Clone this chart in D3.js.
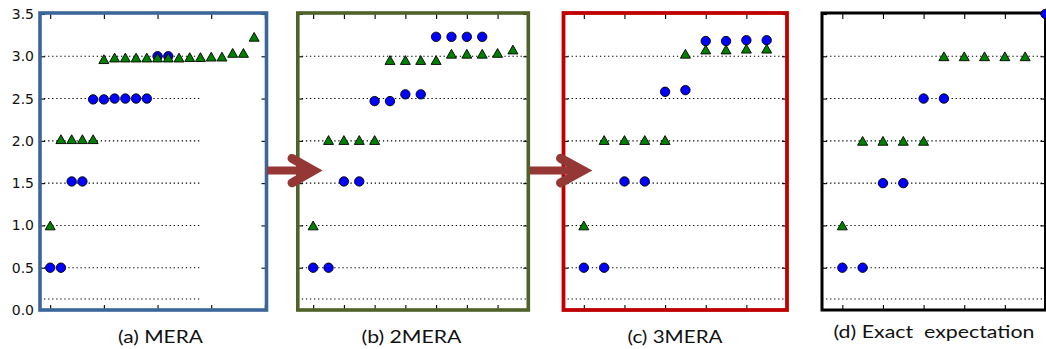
<!DOCTYPE html>
<html>
<head>
<meta charset="utf-8">
<script src="https://cdn.jsdelivr.net/npm/d3@7"></script>
<style>
  html, body { margin: 0; padding: 0; background: #fff; }
  svg { display: block; }
  .title { font-family: Lato, "Open Sans", sans-serif; font-size: 18px; fill: #111; white-space: pre; }
  .ylab text { font-family: "DejaVu Sans", sans-serif; font-size: 14px; fill: #111; }
</style>
</head>
<body>
<script>
// ---- data -------------------------------------------------------------
// Shared axis values
const yTickValues = [0.0, 0.5, 1.0, 1.5, 2.0, 2.5, 3.0, 3.5];
// Exact levels shown as dotted reference lines (drawn up to index 14)
const referenceLevels = [0.13, 0.5, 1.0, 1.5, 2.0, 2.5, 3.0];
const referenceLineEnd = 14;

// Scaling dimensions by level index; null = no point at that index
const meraCircles   = [0.5, 0.5, 1.52, 1.52, 2.49, 2.49, 2.5, 2.5, 2.5, 2.5, 3.0, 3.0];
const meraTriangles = [1.0, 2.02, 2.02, 2.02, 2.02, 2.966, 2.985, 2.985, 2.985, 2.985,
                       2.985, 2.985, 2.985, 2.99, 2.99, 2.996, 2.996, 3.04, 3.04, 3.23];

const mera2Circles   = [0.5, 0.5, 1.52, 1.52, 2.47, 2.47, 2.55, 2.55, 3.23, 3.23, 3.23, 3.23];
const mera2Triangles = [1.0, 2.01, 2.01, 2.01, 2.01, 2.956, 2.956, 2.956, 2.956,
                        3.03, 3.03, 3.03, 3.04, 3.08];

const mera3Circles   = [0.5, 0.5, 1.52, 1.52, 2.58, 2.6, 3.18, 3.18, 3.19, 3.19];
const mera3Triangles = [1.0, 2.01, 2.01, 2.01, 2.01, 3.03, 3.08, 3.08, 3.09, 3.09];

const exactCircles   = [0.5, 0.5, 1.5, 1.5, 2.5, 2.5, null, null, null, null, 3.5];
const exactTriangles = [1.0, 2.0, 2.0, 2.0, 2.0, 3.0, 3.0, 3.0, 3.0, 3.0];

const ticksA = [0, 5, 10, 15, 20];
const ticksB = [0, 2, 4, 6, 8, 10, 12, 14];
const ticksCD = [0, 2, 4, 6, 8, 10];

const panelTitles = ["(a) MERA", "(b) 2MERA", "(c) 3MERA", "(d) Exact  expectation"];

// ---- layout -----------------------------------------------------------
const W = 1046, H = 349;
const yTop = 14, yBottom = 310;

const panels = [
  { circles: meraCircles,  triangles: meraTriangles,  xTicks: ticksA,  xDomain: [-0.95, 20.15],
    left: 40,    right: 266.5, color: "#3b669a", border: 3.6, labels: true,
    title: panelTitles[0], titleX: 118,   titleLen: 85,  titleY: 343 },
  { circles: mera2Circles, triangles: mera2Triangles, xTicks: ticksB,  xDomain: [-1, 14],
    left: 297.8, right: 528.3, color: "#4f6228", border: 3.6, labels: false,
    title: panelTitles[1], titleX: 361.5, titleLen: 100, titleY: 343 },
  { circles: mera3Circles, triangles: mera3Triangles, xTicks: ticksCD, xDomain: [-1, 10],
    left: 563.5, right: 787,   color: "#c00000", border: 3.8, labels: false,
    title: panelTitles[2], titleX: 627.5, titleLen: 95,  titleY: 343 },
  { circles: exactCircles, triangles: exactTriangles, xTicks: ticksCD, xDomain: [-1, 10],
    left: 822,   right: 1045.5, color: "#000000", border: 3, labels: false,
    title: panelTitles[3], titleX: 833.5, titleLen: 201, titleY: 337.5 }
];

const svg = d3.select("body").append("svg")
  .attr("width", W).attr("height", H)
  .attr("viewBox", `0 0 ${W} ${H}`);

const y = d3.scaleLinear().domain([0, 3.5]).range([yBottom, yTop]);

// upward triangle centred on its bounding box
const triPath = (hw, hh) => `M0,${-hh}L${hw},${hh}L${-hw},${hh}Z`;

panels.forEach((p, i) => {
  const x = d3.scaleLinear().domain(p.xDomain).range([p.left, p.right]);
  const g = svg.append("g").attr("class", "panel");

  const clipId = "clip" + i;
  svg.append("clipPath").attr("id", clipId)
    .append("rect")
    .attr("x", p.left).attr("y", yTop)
    .attr("width", p.right - p.left).attr("height", yBottom - yTop);

  // dotted reference levels
  g.append("g").attr("clip-path", `url(#${clipId})`)
    .selectAll("line").data(referenceLevels).join("line")
    .attr("x1", x(p.xDomain[0]))
    .attr("x2", x(Math.min(referenceLineEnd, p.xDomain[1])))
    .attr("y1", d => y(d)).attr("y2", d => y(d))
    .attr("stroke", "#000").attr("stroke-width", 1.1)
    .attr("stroke-dasharray", "1.3,2.75");

  // inward ticks on all four sides
  const clean = sel => sel.select(".domain").remove();
  g.append("g").attr("transform", `translate(0,${yBottom})`)
    .call(d3.axisBottom(x).tickValues(p.xTicks).tickSize(-5).tickFormat(""))
    .call(clean);
  g.append("g").attr("transform", `translate(0,${yTop})`)
    .call(d3.axisTop(x).tickValues(p.xTicks).tickSize(-5).tickFormat(""))
    .call(clean);
  const leftAxis = d3.axisLeft(y).tickValues(yTickValues).tickSize(-5).tickPadding(6)
    .tickFormat(p.labels ? d3.format(".1f") : "");
  g.append("g").attr("class", "ylab").attr("transform", `translate(${p.left},0)`)
    .call(leftAxis).call(clean);
  g.append("g").attr("transform", `translate(${p.right},0)`)
    .call(d3.axisRight(y).tickValues(yTickValues).tickSize(-5).tickFormat(""))
    .call(clean);
  g.selectAll(".tick line").attr("stroke", "#000").attr("stroke-width", 1.1);

  // coloured frame
  g.append("rect")
    .attr("x", p.left).attr("y", yTop - 1)
    .attr("width", p.right - p.left).attr("height", yBottom - yTop + 1)
    .attr("fill", "none").attr("stroke", p.color).attr("stroke-width", p.border);

  // blue circles
  g.append("g").selectAll("circle")
    .data(p.circles.map((v, k) => ({ k, v })).filter(d => d.v !== null))
    .join("circle")
    .attr("cx", d => x(d.k)).attr("cy", d => y(d.v)).attr("r", 4.7)
    .attr("fill", "#0000ff").attr("stroke", "#000").attr("stroke-width", 0.9);

  // green triangles
  g.append("g").selectAll("path")
    .data(p.triangles.map((v, k) => ({ k, v })).filter(d => d.v !== null))
    .join("path")
    .attr("d", triPath(5, 4.4))
    .attr("transform", d => `translate(${x(d.k)},${y(d.v)})`)
    .attr("fill", "#008000").attr("stroke", "#000").attr("stroke-width", 0.9);

  // caption
  svg.append("text").attr("class", "title")
    .attr("x", p.titleX).attr("y", p.titleY)
    .attr("textLength", p.titleLen).attr("lengthAdjust", "spacingAndGlyphs")
    .text(p.title);
});

// ---- arrows between panels ------------------------------------------
const arrowColor = "#953735";
const arrows = [
  { x0: 267, tipBase: 313.5, armX: 292,   cy: 170.6, spread: 12.2 },
  { x0: 530, tipBase: 583,   armX: 560.5, cy: 170.6, spread: 12.3 }
];
const ag = svg.append("g").attr("class", "arrows");
arrows.forEach(a => {
  ag.append("line")
    .attr("x1", a.x0).attr("x2", a.tipBase).attr("y1", a.cy).attr("y2", a.cy)
    .attr("stroke", arrowColor).attr("stroke-width", 8);
  ag.append("path")
    .attr("d", d3.line()([[a.armX, a.cy - a.spread], [a.tipBase, a.cy], [a.armX, a.cy + a.spread]]))
    .attr("fill", "none").attr("stroke", arrowColor).attr("stroke-width", 9)
    .attr("stroke-linecap", "round").attr("stroke-linejoin", "miter");
});
</script>
</body>
</html>
